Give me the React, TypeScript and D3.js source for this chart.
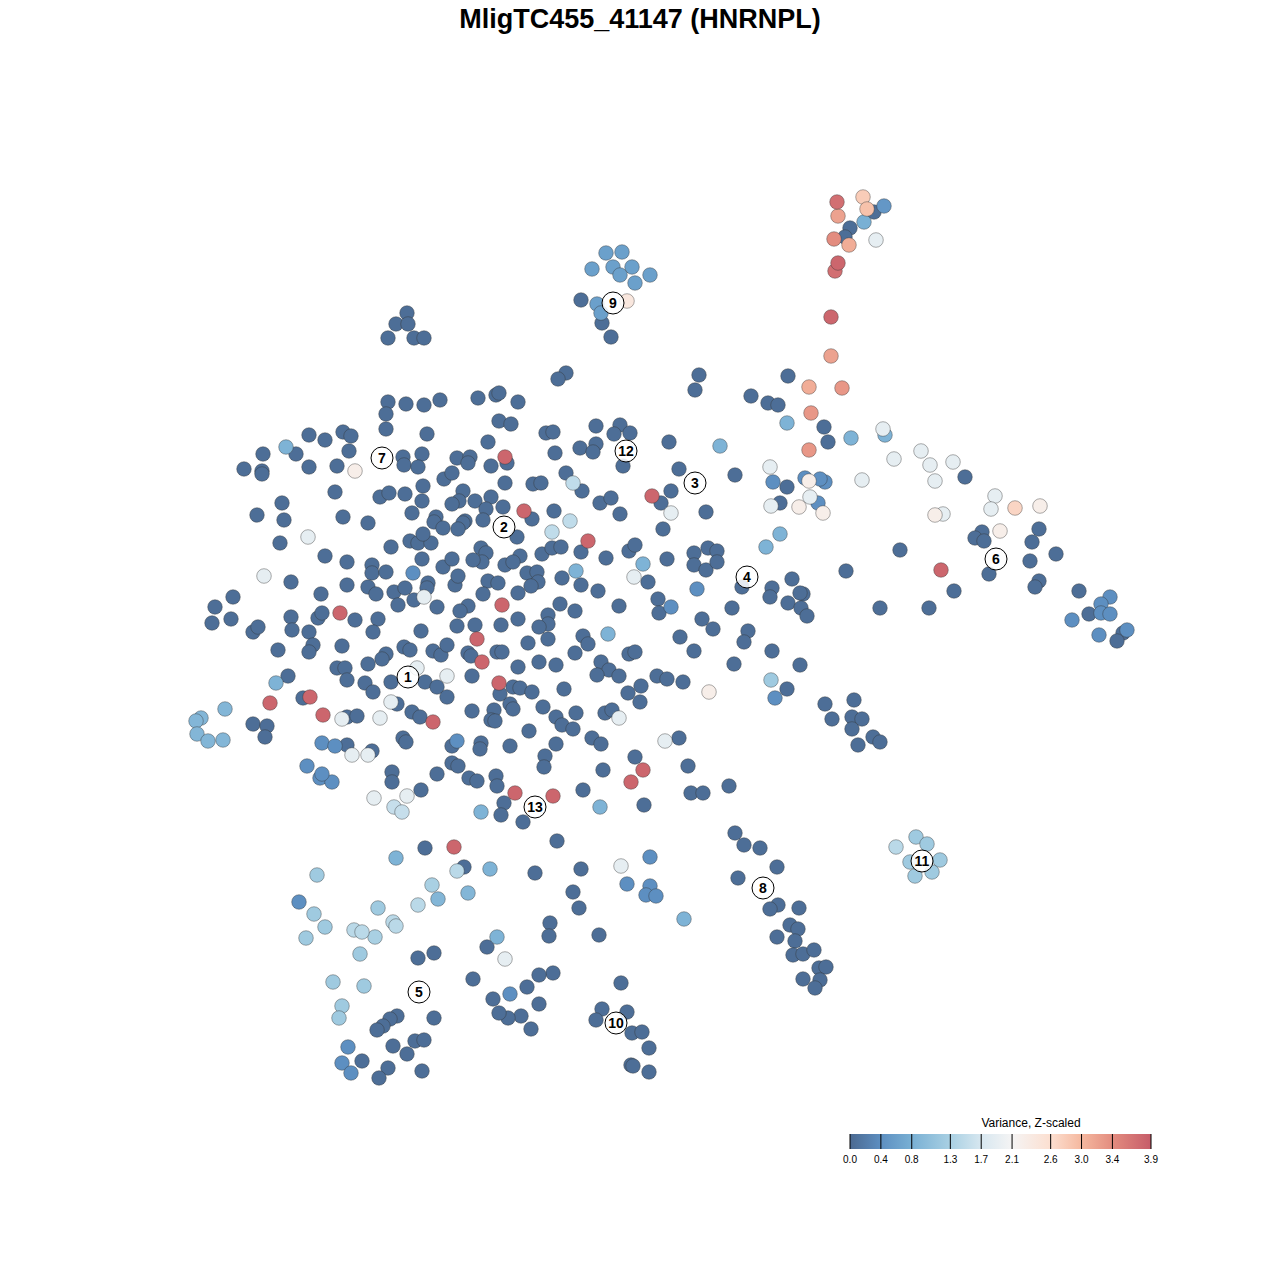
import React, { useRef, useEffect } from 'react';
import * as d3 from 'd3';

// Each cell: [tSNE-1, tSNE-2, variance]; variance omitted = floor of the scale
type Cell = [number, number, number?];

const FLOOR = 0.05;

const topRight: Cell[] = [
  [177, 438, 3.7], [203, 443, 2.8], [178, 424, 3.2], [207, 431, 2.9], [214, 428], [224, 434, 0.5],
  [204, 418, 0.8], [190, 412], [185, 403], [174, 401, 3.4], [189, 395, 3.1], [216, 400, 1.9],
  [178, 377, 3.8], [175, 369, 3.7], [171, 323, 3.8], [171, 284, 3.2], [182, 252, 3.3], [149, 253, 3.1],
  [151, 227, 3.3], [149, 190, 3.3],
];

const cluster9: Cell[] = [
  [-54, 387, 0.6], [-38, 388, 0.6], [-68, 371, 0.6], [-47, 373, 0.6], [-28, 373, 0.6], [-40, 365, 0.6],
  [-10, 365, 0.6], [-25, 357, 0.6], [-79, 340], [-63, 336, 0.6], [-33, 339, 2.4], [-59, 327, 0.6],
  [-58, 317], [-49, 303],
];

const topLeft: Cell[] = [
  [-253, 327], [-264, 316], [-252, 316], [-272, 302], [-246, 302], [-236, 302],
];

const north: Cell[] = [
  [-94, 267], [-102, 261], [39, 265], [35, 250], [128, 264], [91, 244], [108, 237], [118, 235],
  [127, 217, 0.85], [164, 213], [168, 198], [191, 202, 0.85], [225, 205, 0.85], [223, 211, 1.9],
  [261, 189, 1.9], [234, 181, 1.9], [270, 175, 1.9], [293, 178, 1.9], [305, 163], [202, 160, 1.9],
  [275, 159, 1.9], [165, 158, 0.4], [110, 173, 1.9], [75, 165], [149, 159, 2.25], [113, 158, 0.4],
  [145, 162, 0.4], [160, 161, 0.4], [127, 153], [111, 134, 1.9], [120, 137], [150, 143, 1.9],
  [158, 137, 0.4], [139, 133, 2.25], [163, 127, 2.25], [120, 106, 0.85], [106, 93, 0.85],
];

const cluster6: Cell[] = [
  [335, 144, 1.9], [331, 131, 1.9], [355, 132, 2.7], [380, 134, 2.25], [275, 125, 2.25], [283, 126, 1.9],
  [322, 108], [315, 102], [324, 99], [340, 109, 2.25], [379, 111], [372, 98], [240, 90], [370, 79],
  [396, 86], [186, 69], [281, 70, 3.8], [329, 66], [379, 59], [375, 53], [294, 49], [419, 49],
  [220, 32], [269, 32], [450, 43, 0.4], [441, 36, 0.4], [429, 26], [441, 27, 0.4], [450, 26, 0.4],
  [412, 20, 0.4], [467, 10, 0.4], [463, 7], [439, 5, 0.4], [457, -1],
];

const eastLower: Cell[] = [
  [194, -60], [165, -64], [172, -79], [192, -77], [202, -79], [192, -89], [213, -97], [220, -102], [198, -105],
];

const cluster11: Cell[] = [
  [256, -197, 1.2], [267, -204, 1.2], [236, -207, 1.45], [250, -222, 1.2], [280, -220, 1.2],
  [272, -232, 1.2], [255, -236, 1.2],
];

const cluster8: Cell[] = [
  [75, -193], [84, -205], [100, -208], [117, -227], [78, -238], [118, -265], [110, -269], [139, -268],
  [130, -285], [138, -289], [117, -297], [135, -301], [133, -315], [143, -314], [154, -310], [159, -328],
  [166, -327], [160, -340], [143, -339], [155, -348],
];

const cluster10: Cell[] = [
  [-39, -343], [-58, -369], [-64, -380], [-33, -372], [-28, -393], [-18, -392], [-11, -408], [-29, -425],
  [-27, -426], [-11, -432], [-107, -333], [-121, -335], [-133, -347], [-150, -354, 0.4], [-167, -359],
  [-121, -364], [-139, -376], [-152, -378], [-161, -373], [-129, -389], [-155, -319, 1.9], [-163, -297, 0.85],
  [-173, -307], [-187, -339], [-110, -283], [-111, -296], [-61, -295], [-81, -268], [-87, -252], [-79, -229],
  [-125, -233], [-103, -201], [-39, -226, 1.9], [-10, -217, 0.4], [-33, -244, 0.4], [-10, -246, 0.4],
  [-14, -255, 0.4], [-4, -256, 0.4], [24, -279, 0.85],
];

const cluster13: Cell[] = [
  [-137, -182], [-156, -163], [-159, -175], [-145, -153, 3.8], [-107, -156, 3.8], [-77, -150],
  [-29, -142, 3.8], [-17, -130, 3.8], [-60, -167, 0.85], [-16, -165], [31, -153], [43, -153], [69, -146],
  [28, -126], [-57, -130],
];

const cluster5: Cell[] = [
  [-239, -150], [-286, -158, 1.9], [-253, -156, 1.9], [-266, -167, 1.55], [-258, -172, 1.55],
  [-179, -172, 0.85], [-235, -208], [-206, -207, 3.8], [-264, -218, 0.85], [-196, -227], [-203, -231, 1.45],
  [-170, -229, 0.85], [-343, -235, 1.2], [-228, -245, 1.3], [-222, -259, 0.9], [-192, -253, 0.9],
  [-242, -265, 1.45], [-361, -262, 0.4], [-346, -274, 1.2], [-282, -268, 1.2], [-335, -287, 1.2],
  [-306, -290, 1.45], [-298, -292, 1.45], [-285, -297, 1.3], [-267, -282, 1.45], [-264, -286, 1.45],
  [-354, -298, 1.2], [-300, -314, 1.2], [-242, -318], [-226, -313], [-327, -342, 1.2], [-296, -346, 1.2],
  [-318, -366, 1.2], [-321, -378, 1.2], [-263, -376], [-270, -379], [-277, -386], [-283, -390], [-226, -378],
  [-245, -401], [-236, -400], [-267, -406], [-253, -414], [-312, -407, 0.4], [-318, -423, 0.4], [-298, -421],
  [-309, -433, 0.4], [-272, -428], [-281, -438], [-238, -431],
];

const coreNorth: Cell[] = [
  [-272, 238], [-254, 236], [-236, 235], [-220, 240], [-182, 242], [-164, 245], [-161, 247], [-142, 238],
  [-274, 226], [-274, 211], [-233, 206], [-161, 219], [-149, 216], [-351, 205], [-335, 200], [-317, 208],
  [-309, 204], [-172, 198], [-374, 193, 0.85], [-397, 186], [-364, 186], [-311, 189], [-257, 183], [-256, 175],
  [-238, 186], [-242, 173], [-203, 182], [-190, 183], [-192, 177], [-169, 174], [-153, 177], [-155, 183, 3.8],
  [-416, 171], [-398, 169], [-398, 166], [-351, 173], [-323, 174], [-305, 169, 2.25], [-216, 161], [-208, 167],
  [-237, 154], [-155, 157], [-114, 207], [-107, 208], [-64, 214], [-40, 215], [-46, 206], [-30, 207], [9, 198],
  [60, 194, 0.85], [-105, 187], [-80, 192], [-64, 196], [-67, 188], [-37, 174], [19, 171], [-94, 167],
  [-87, 157, 1.5], [-127, 156], [-119, 157],
];

const coreWest: Cell[] = [
  [-325, 148], [-280, 143], [-271, 147], [-255, 146], [-238, 139], [-197, 149], [-201, 139], [-208, 136],
  [-185, 139], [-169, 143], [-174, 131], [-157, 133], [-378, 137], [-403, 125], [-376, 120], [-317, 123],
  [-292, 117], [-248, 127], [-224, 123], [-226, 118], [-217, 112], [-195, 119], [-197, 117], [-202, 111],
  [-177, 120], [-352, 103, 1.9], [-380, 97], [-269, 93], [-250, 99], [-242, 97], [-229, 97], [-237, 106],
  [-179, 92], [-174, 87], [-178, 78], [-335, 84], [-313, 78], [-288, 75], [-288, 67], [-274, 68],
  [-247, 67, 0.4], [-238, 81], [-217, 73], [-208, 81], [-187, 80], [-155, 75], [-396, 64, 1.9], [-369, 58],
  [-313, 55], [-292, 53], [-284, 46], [-266, 48], [-255, 52], [-232, 57], [-233, 52], [-246, 40],
  [-236, 43, 1.9], [-262, 35], [-223, 33], [-205, 55], [-202, 64], [-172, 59], [-162, 57], [-177, 46],
  [-192, 34], [-200, 29], [-158, 35, 3.8], [-427, 43], [-445, 33], [-448, 17], [-429, 21], [-339, 46],
  [-369, 23], [-342, 22], [-338, 27], [-320, 27, 3.8], [-305, 20], [-282, 21], [-287, 8], [-407, 8],
  [-402, 13], [-368, 10], [-351, 8], [-239, 9], [-203, 14], [-185, 15], [-159, 15], [-183, 1, 3.8],
];

const coreEast: Cell[] = [
  [-78, 149], [-136, 129, 3.8], [-128, 121], [-106, 129], [-90, 119, 1.5], [-108, 108, 1.5], [-143, 103],
  [-72, 99, 3.8], [-79, 88], [-118, 86], [-108, 92], [-99, 93], [-140, 84], [-147, 78], [-54, 82], [-60, 137],
  [-49, 142], [-40, 126], [-8, 144, 3.8], [1, 137], [11, 149], [11, 127, 1.9], [3, 111], [46, 128], [-31, 89],
  [-25, 95], [-17, 76, 0.85], [-26, 63, 1.9], [-12, 58], [7, 81], [34, 87], [48, 92], [57, 89], [34, 75],
  [46, 70], [57, 78], [37, 51, 0.4], [82, 53], [-84, 69, 0.85], [-98, 62], [-133, 67], [-123, 68], [-122, 58],
  [-129, 54], [-79, 55], [-62, 49], [-142, 47], [-100, 36], [-85, 29], [-41, 34], [-2, 41], [-1, 27],
  [11, 33, 0.4], [-112, 25], [-112, 16], [-121, 13], [-142, 21], [72, 32], [42, 21], [53, 11], [-52, 6, 0.85],
  [-77, 4], [20, 3], [88, 9], [132, 61], [112, 52], [110, 43], [143, 46], [140, 47], [128, 37], [141, 32],
  [147, 24],
];

const coreSouthWest: Cell[] = [
  [-347, -5], [-351, -12], [-318, -6], [-382, -10], [-256, -7], [-250, -10], [-227, -11], [-219, -15],
  [-213, -5], [-274, -14], [-278, -19], [-292, -24], [-323, -28], [-315, -28], [-313, -40], [-372, -36],
  [-384, -43, 0.85], [-243, -28, 1.9], [-269, -42], [-235, -42], [-223, -47], [-213, -36, 1.9], [-213, -57],
  [-192, -13], [-189, -16], [-178, -22, 3.8], [-188, -36], [-163, -12], [-158, -12], [-161, -43, 3.8],
  [-160, -54], [-147, -47], [-295, -43], [-287, -52], [-390, -63, 3.8], [-357, -58], [-350, -57, 3.8],
  [-337, -75, 3.8], [-318, -79, 1.9], [-313, -77], [-303, -76], [-280, -78, 1.9], [-269, -62, 1.9],
  [-263, -64], [-248, -72], [-240, -77], [-227, -82, 3.8], [-188, -71], [-166, -70], [-169, -80], [-165, -81],
  [-150, -64], [-147, -69], [-435, -69, 0.9], [-459, -78, 0.9], [-464, -81, 0.9], [-463, -94, 0.9],
  [-452, -101, 0.9], [-437, -100, 0.9], [-407, -84], [-393, -86], [-395, -97], [-338, -103, 0.4],
  [-325, -106, 0.4], [-313, -105], [-308, -115, 1.9], [-292, -115, 1.9], [-288, -111], [-257, -98],
  [-254, -102], [-203, -101, 0.4], [-208, -106], [-179, -103], [-180, -109], [-150, -106], [-353, -126, 0.4],
  [-340, -138, 0.4], [-328, -142, 0.4], [-338, -134, 0.4], [-268, -132], [-268, -142], [-223, -134],
  [-208, -123], [-202, -126], [-191, -138], [-183, -141], [-164, -136], [-163, -146],
];

const coreSouthEast: Cell[] = [
  [-140, -48], [-128, -52], [-96, -49], [-132, -3], [-112, 1], [-85, -13], [-72, -4], [-31, -14], [-25, -12],
  [-142, -27], [-121, -22], [-104, -25], [-59, -22], [-51, -30], [-63, -35], [-41, -36], [34, -11], [84, -2],
  [74, -24], [112, -11], [140, -25], [-3, -36], [7, -39], [23, -42], [49, -52, 2.25], [111, -40, 1.2],
  [115, -58, 0.4], [127, -49], [-32, -53], [-19, -46], [-20, -62], [-117, -67], [-104, -77], [-98, -85],
  [-84, -73], [-87, -89], [-55, -73], [-48, -70], [-41, -78, 1.9], [-131, -91], [-68, -98], [-59, -104],
  [-104, -104], [-115, -116], [-116, -127], [5, -101, 1.9], [19, -98], [-25, -117],
];

const GROUPS: Cell[][] = [
  topRight, cluster9, topLeft, north, cluster6, eastLower, cluster11, cluster8, cluster10, cluster13,
  cluster5, coreNorth, coreWest, coreEast, coreSouthWest, coreSouthEast,
];

// Cluster label centres (tSNE coords)
const LABEL_IDS = ['1', '2', '3', '4', '5', '6', '7', '8', '9', '10', '11', '12', '13'];
const LABEL_X = [-252, -156, 35, 87, -241, 336, -278, 103, -47, -44, 262, -34, -125];
const LABEL_Y = [-37, 113, 157, 63, -352, 81, 182, -248, 337, -383, -221, 189, -167];

const LEGEND_TICKS = [0, 0.4, 0.8, 1.3, 1.7, 2.1, 2.6, 3.0, 3.4, 3.9];
const LEGEND_COLORS = [
  '#4b6991', '#5d8fc1', '#79b0d4', '#a9d0e3', '#d7e7f0',
  '#f5f4f4', '#fcdfd0', '#f5b89f', '#e38c7f', '#c65c69',
];

const WIDTH = 1280;
const HEIGHT = 1280;
const FONT = '"Liberation Sans", Arial, sans-serif';

export default function App() {
  const ref = useRef<SVGSVGElement>(null);

  useEffect(() => {
    if (!ref.current) return;
    const svg = d3.select(ref.current);
    svg.selectAll('*').remove();

    const x = d3.scaleLinear().domain([-500, 500]).range([160, 1160]);
    const y = d3.scaleLinear().domain([-500, 500]).range([1140, 140]);
    const color = d3
      .scaleLinear<string>()
      .domain(LEGEND_TICKS)
      .range(LEGEND_COLORS)
      .interpolate(d3.interpolateRgb)
      .clamp(true);

    svg.append('rect').attr('width', WIDTH).attr('height', HEIGHT).attr('fill', '#fff');

    // Title
    svg
      .append('text')
      .attr('x', WIDTH / 2)
      .attr('y', 28)
      .attr('text-anchor', 'middle')
      .style('font-family', FONT)
      .style('font-weight', 'bold')
      .style('font-size', '27px')
      .text('MligTC455_41147 (HNRNPL)');

    // Points, low variance first so high values sit on top
    const cells = GROUPS.flat().map((c) => ({ t1: c[0], t2: c[1], v: c[2] ?? FLOOR }));
    cells.sort((a, b) => a.v - b.v);

    svg
      .append('g')
      .selectAll('circle')
      .data(cells)
      .enter()
      .append('circle')
      .attr('cx', (d) => x(d.t1))
      .attr('cy', (d) => y(d.t2))
      .attr('r', 7.3)
      .attr('fill', (d) => color(d.v))
      .attr('stroke', '#333')
      .attr('stroke-opacity', 0.4)
      .attr('stroke-width', 1);

    // Cluster labels
    const lg = svg.append('g');
    LABEL_IDS.forEach((id, i) => {
      const g = lg.append('g').attr('transform', `translate(${x(LABEL_X[i])},${y(LABEL_Y[i])})`);
      g.append('circle')
        .attr('r', 11)
        .attr('fill', '#fff')
        .attr('fill-opacity', 0.85)
        .attr('stroke', '#000')
        .attr('stroke-width', 1);
      g.append('text')
        .attr('text-anchor', 'middle')
        .attr('dy', '0.36em')
        .style('font-family', FONT)
        .style('font-weight', 'bold')
        .style('font-size', '14px')
        .text(id);
    });

    // Legend
    const lx = d3.scaleLinear().domain([0, 3.9]).range([850, 1151]);
    const grad = svg
      .append('defs')
      .append('linearGradient')
      .attr('id', 'varGrad')
      .attr('x1', '0%')
      .attr('x2', '100%');
    LEGEND_TICKS.forEach((t, i) => {
      grad.append('stop').attr('offset', `${(t / 3.9) * 100}%`).attr('stop-color', LEGEND_COLORS[i]);
    });

    const leg = svg.append('g');
    leg
      .append('rect')
      .attr('x', lx(0))
      .attr('y', 1134)
      .attr('width', lx(3.9) - lx(0))
      .attr('height', 15)
      .attr('fill', 'url(#varGrad)');
    leg
      .selectAll('line')
      .data(LEGEND_TICKS)
      .enter()
      .append('line')
      .attr('x1', (d) => lx(d))
      .attr('x2', (d) => lx(d))
      .attr('y1', 1134)
      .attr('y2', 1149)
      .attr('stroke', '#000')
      .attr('stroke-width', 1);
    leg
      .selectAll('text.tick')
      .data(LEGEND_TICKS)
      .enter()
      .append('text')
      .attr('class', 'tick')
      .attr('x', (d) => lx(d))
      .attr('y', 1163)
      .attr('text-anchor', 'middle')
      .style('font-family', FONT)
      .style('font-size', '10px')
      .text((d) => d.toFixed(1));
    leg
      .append('text')
      .attr('x', 1031)
      .attr('y', 1127)
      .attr('text-anchor', 'middle')
      .style('font-family', FONT)
      .style('font-size', '12px')
      .text('Variance, Z-scaled');
  }, []);

  return (
    <div style={{ position: 'absolute', left: 0, top: 0 }}>
      <svg ref={ref} width={WIDTH} height={HEIGHT} />
    </div>
  );
}
